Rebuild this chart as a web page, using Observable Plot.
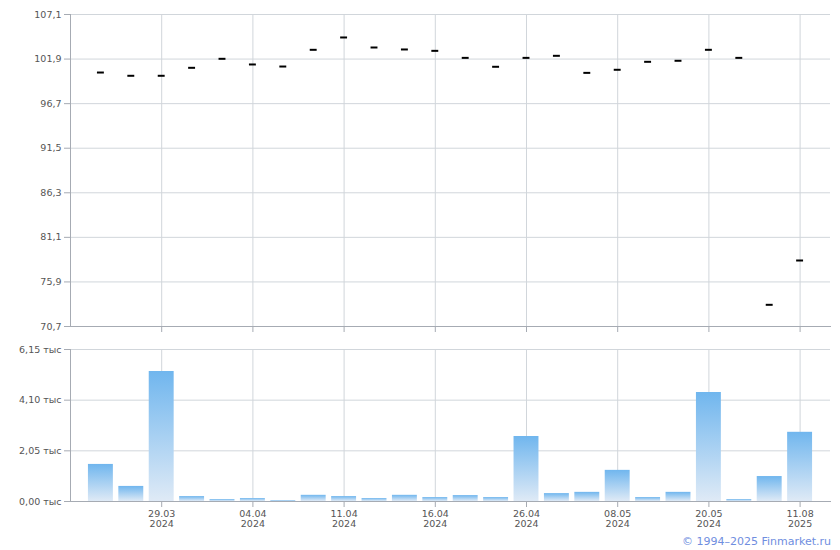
<!DOCTYPE html>
<html><head><meta charset="utf-8">
<script src="https://cdn.jsdelivr.net/npm/d3@7"></script>
<script src="https://cdn.jsdelivr.net/npm/@observablehq/plot@0.6"></script>
<style>
body{margin:0;background:#fff;}
#wrap{position:relative;width:840px;height:550px;}
#topChart,#botChart{display:block;line-height:0;}
#cap{position:absolute;right:9px;top:535px;font:11px "DejaVu Sans";color:#6f8ee0;line-height:13px;}
</style>
</head><body>
<div id="wrap"><div id="topChart"></div><div id="botChart"></div><div id="cap">© 1994–2025 Finmarket.ru</div></div>
<script>
const dates = ["27.03.2024","28.03.2024","29.03.2024","01.04.2024","02.04.2024","04.04.2024","05.04.2024","09.04.2024","11.04.2024","12.04.2024","15.04.2024","16.04.2024","18.04.2024","23.04.2024","26.04.2024","02.05.2024","06.05.2024","08.05.2024","14.05.2024","16.05.2024","20.05.2024","21.05.2024","05.08.2025","11.08.2025"];
const prices = [100.33,99.95,99.95,100.88,101.93,101.27,101.03,102.98,104.42,103.25,103.02,102.86,102.04,101.0,102.04,102.28,100.29,100.65,101.58,101.70,102.98,102.04,73.23,78.40];
const volumes = [1500,610,5260,200,80,120,40,250,200,120,250,160,240,160,2630,320,370,1260,160,370,4410,80,1010,2800];
const labelDates = dates.filter((d, i) => i % 3 === 2);
const priceTicks = [70.7,75.9,81.1,86.3,91.5,96.7,101.9,107.1];
const volumeTicks = [0,2050,4100,6150];

const rows = dates.map((d, i) => ({date: d, price: prices[i], volume: volumes[i]}));
const gridC = "#d1d6db", axisC = "#a6abb3", textC = "#555";
const xScale = {type: "band", domain: dates, paddingInner: 0.18, paddingOuter: 0.59, round: false};
const chartStyle = {fontFamily: "DejaVu Sans", fontSize: "9.5px", background: "#fff", overflow: "visible"};

const priceChart = Plot.plot({
  width: 840, height: 340, marginLeft: 70, marginRight: 10, marginTop: 14, marginBottom: 14,
  style: chartStyle,
  x: {...xScale, axis: null},
  y: {domain: [70.7, 107.1], axis: null},
  marks: [
    Plot.gridY(priceTicks, {stroke: gridC, strokeOpacity: 1}),
    Plot.gridX(labelDates, {stroke: gridC, strokeOpacity: 1}),
    Plot.axisY(priceTicks, {label: null, tickFormat: d => d.toFixed(1).replace(".", ","), tickSize: 6, tickPadding: 3, stroke: axisC, fill: textC}),
    Plot.axisX(labelDates, {label: null, tickFormat: () => "", tickSize: 6, stroke: axisC}),
    Plot.frame({anchor: "left", stroke: axisC}),
    Plot.frame({anchor: "bottom", stroke: axisC}),
    Plot.tickY(rows, {x: "date", y: "price", stroke: "#000", strokeWidth: 2, insetLeft: 9, insetRight: 9})
  ]
});
document.getElementById("topChart").appendChild(priceChart);

const volChart = Plot.plot({
  width: 840, height: 190, marginLeft: 70, marginRight: 10, marginTop: 9, marginBottom: 29,
  style: chartStyle,
  x: {...xScale, axis: null},
  y: {domain: [0, 6150], axis: null},
  marks: [
    Plot.gridY(volumeTicks, {stroke: gridC, strokeOpacity: 1}),
    Plot.gridX(labelDates, {stroke: gridC, strokeOpacity: 1}),
    Plot.barY(rows, {x: "date", y: "volume", fill: "url(#volgrad)"}),
    Plot.axisY(volumeTicks, {label: null, tickFormat: d => (d / 1000).toFixed(2).replace(".", ",") + " тыс", tickSize: 6, tickPadding: 3, stroke: axisC, fill: textC}),
    Plot.axisX(labelDates, {label: null, tickFormat: d => d.slice(0, 5) + "\n" + d.slice(6), tickSize: 6, tickPadding: 3, stroke: axisC, fill: textC}),
    Plot.frame({anchor: "left", stroke: axisC}),
    Plot.frame({anchor: "bottom", stroke: axisC})
  ]
});
d3.select(volChart).insert("defs", ":first-child").html(
  '<linearGradient id="volgrad" x1="0" y1="0" x2="0" y2="1"><stop offset="0" stop-color="#70b6ee"/><stop offset="1" stop-color="#dfeaf6"/></linearGradient>'
);
document.getElementById("botChart").appendChild(volChart);
</script>
</body></html>
